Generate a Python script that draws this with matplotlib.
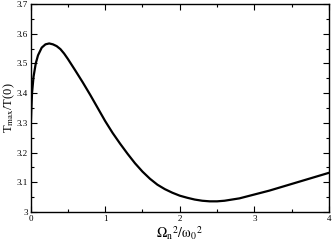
import matplotlib
matplotlib.use("Agg")
import matplotlib.pyplot as plt
from matplotlib.ticker import MultipleLocator, FuncFormatter

omega_ratio = [0, 0.003, 0.01, 0.02, 0.04, 0.07, 0.1, 0.15, 0.2, 0.25, 0.3, 0.35,
               0.4, 0.45, 0.5, 0.6, 0.7, 0.8, 0.9, 1.0, 1.1, 1.2, 1.3, 1.4, 1.5,
               1.6, 1.7, 1.8, 1.9, 2.0, 2.1, 2.2, 2.3, 2.4, 2.5, 2.6, 2.8, 3.0,
               3.2, 3.4, 3.6, 3.8, 4.0]
t_ratio = [3.24, 3.29, 3.34, 3.40, 3.455, 3.50, 3.527, 3.553, 3.564, 3.567, 3.564,
           3.558, 3.548, 3.533, 3.515, 3.476, 3.436, 3.394, 3.350, 3.306, 3.266,
           3.230, 3.196, 3.164, 3.136, 3.112, 3.092, 3.077, 3.065, 3.055, 3.048,
           3.042, 3.038, 3.036, 3.036, 3.038, 3.046, 3.059, 3.072, 3.087, 3.102,
           3.117, 3.132]

plt.rcParams['font.family'] = ['Liberation Serif', 'DejaVu Serif']
plt.rcParams['mathtext.fontset'] = 'stix'

fig = plt.figure(figsize=(3.32, 2.44), dpi=100)
ax = fig.add_axes([0.092, 0.131, 0.899, 0.853])
ax.plot(omega_ratio, t_ratio, color='black', lw=1.6, solid_capstyle='round',
        solid_joinstyle='round')

ax.set_xlim(0, 4)
ax.set_ylim(3.0, 3.7)
ax.xaxis.set_major_locator(MultipleLocator(1))
ax.xaxis.set_minor_locator(MultipleLocator(0.5))
ax.yaxis.set_major_locator(MultipleLocator(0.1))
ax.yaxis.set_minor_locator(MultipleLocator(0.05))
ax.yaxis.set_major_formatter(FuncFormatter(lambda v, p: ('%.1f' % v).rstrip('0').rstrip('.')))
ax.xaxis.set_major_formatter(FuncFormatter(lambda v, p: '%d' % round(v)))
ax.tick_params(which='both', direction='in', top=True, right=True, labelsize=6.5, pad=2)
ax.tick_params(which='major', length=4, width=0.8)
ax.tick_params(which='minor', length=2, width=0.8)
for s in ax.spines.values():
    s.set_linewidth(1.0)

ax.set_xlabel(r'$\mathrm{\Omega}_{\mathrm{n}}{}^{2}/\mathrm{\omega}_{0}{}^{2}$', fontsize=10, labelpad=1)
ax.set_ylabel(r'T$_{\mathrm{max}}$/T(0)', fontsize=9)
ax.yaxis.set_label_coords(-0.045, 0.5)

fig.savefig('out.png', dpi=100)
